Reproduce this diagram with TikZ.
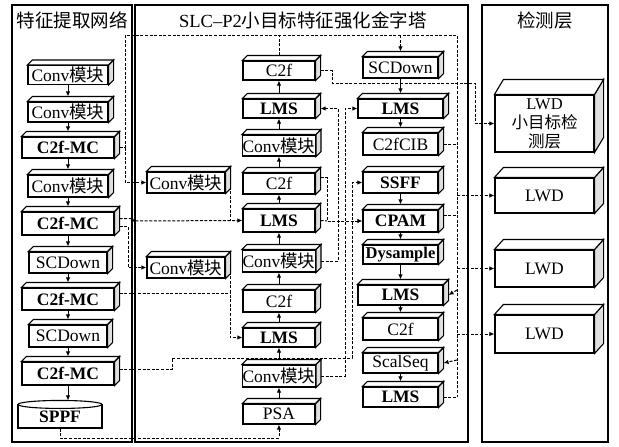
\documentclass[tikz,border=0pt]{standalone}
\usepackage{fontspec}
\setmainfont{Liberation Serif}
\newfontfamily\cjk{Noto Sans CJK SC}
\usetikzlibrary{arrows.meta,calc}
\newcommand\zh[1]{{\cjk #1}}
\newcommand\cubeit[3]{%
 \draw[line width=1.1pt, fill=gray!25] (#1.north east) -- ++(#2,-#3) -- ($(#1.south east)+(#2,-#3)$) -- (#1.south east) -- cycle;
 \draw[line width=1.1pt, fill=white] (#1.north west) -- ++(#2,-#3) -- ($(#1.north east)+(#2,-#3)$) -- (#1.north east) -- cycle;}
\newcommand\cubebox[7]{%
 \node[#1, minimum width=#5pt, minimum height=#6pt] (#2) at (#3,#4) {#7};
 \cubeit{#2}{5}{5}}
\begin{document}
\begin{tikzpicture}[x=1pt,y=-1pt,
 box/.style={draw, line width=1.1pt, fill=white, inner sep=0pt, font=\fontsize{17.5}{18}\selectfont},
 bbox/.style={box, font=\fontsize{17.5}{18}\selectfont\bfseries},
 arr/.style={line width=1pt, -{Latex[length=5pt,width=4.5pt]}},
 conn/.style={line width=1pt, dash pattern=on 3pt off 1.6pt},
 carr/.style={conn, -{Latex[length=5pt,width=4.5pt]}},
 panel/.style={draw, line width=1.1pt},
 ttl/.style={font=\fontsize{18.5}{19}\selectfont}]
\useasboundingbox (0,0) rectangle (619,447);
% panels
\draw[panel] (12,5) rectangle (132,442);
\draw[panel] (135,5) rectangle (468,442);
\draw[panel] (482,5) rectangle (608,442);
\node[ttl] (t1) at (72,20) {\zh{特征提取网络}};
\node[ttl] (t2) at (303,20) {SLC–P2\zh{小目标特征强化金字塔}};
\node[ttl] (t3) at (545,20) {\zh{检测层}};
% left column
\cubebox{box}{l1}{68}{75}{80}{19}{Conv\zh{模块}}
\cubebox{box}{l2}{68}{112}{80}{20}{Conv\zh{模块}}
\cubebox{bbox}{l3}{68}{147.5}{92}{21}{C2f-MC}
\cubebox{box}{l4}{68}{186}{80}{22}{Conv\zh{模块}}
\cubebox{bbox}{l5}{68}{223.5}{92}{23}{C2f-MC}
\cubebox{box}{l6}{68}{262.5}{78}{21}{SCDown}
\cubebox{bbox}{l7}{68}{299}{92}{22}{C2f-MC}
\cubebox{box}{l8}{68}{336}{78}{22}{SCDown}
\cubebox{bbox}{l9}{68}{373.5}{92}{23}{C2f-MC}
\node[bbox, minimum width=84pt, minimum height=23pt] (l10) at (60,416.5) {SPPF};
\draw[line width=1.1pt, fill=white] (l10.north) ellipse [x radius=42pt, y radius=4pt];
% column A
\cubebox{box}{a1}{279}{70.5}{72}{19}{C2f}
\cubebox{bbox}{a2}{279}{108.5}{72}{19}{LMS}
\cubebox{box}{a3}{279}{145.5}{72}{21}{Conv\zh{模块}}
\cubebox{box}{a4}{279}{183.5}{72}{21}{C2f}
\cubebox{bbox}{a5}{279}{220.5}{72}{23}{LMS}
\cubebox{box}{a6}{279}{261}{72}{22}{Conv\zh{模块}}
\cubebox{box}{a7}{279}{301}{72}{22}{C2f}
\cubebox{bbox}{a8}{279}{337.5}{72}{19}{LMS}
\cubebox{box}{a9}{279}{376}{72}{22}{Conv\zh{模块}}
\cubebox{box}{a10}{279}{414}{72}{20}{PSA}
% column B
\cubebox{box}{b1}{400.5}{67.5}{75}{21}{SCDown}
\cubebox{bbox}{b2}{400.5}{108.5}{85}{19}{LMS}
\cubebox{box}{b3}{400.5}{144}{75}{22}{C2fCIB}
\cubebox{bbox}{b4}{400.5}{182.5}{75}{21}{SSFF}
\cubebox{bbox}{b5}{400.5}{221}{75}{22}{CPAM}
\cubebox{bbox}{b6}{400.5}{254.5}{75}{19}{\fontsize{16.5}{17}\selectfont Dysample}
\cubebox{bbox}{b7}{400.5}{295}{85}{20}{LMS}
\cubebox{box}{b8}{400.5}{329}{75}{22}{C2f}
\cubebox{box}{b9}{400.5}{363}{75}{20}{ScalSeq}
\cubebox{bbox}{b10}{400.5}{397}{75}{20}{LMS}
% side column
\cubebox{box}{s1}{186}{182.5}{78}{21}{Conv\zh{模块}}
\cubebox{box}{s2}{186}{267.5}{78}{21}{Conv\zh{模块}}
% detection layers
\node[box, minimum width=99pt, minimum height=57pt, align=center, font=\fontsize{16.5}{19}\selectfont] (r1) at (544.5,123.5) {LWD\\\zh{小目标检}\\\zh{测层}};
\cubeit{r1}{9}{15}
\node[box, minimum width=99pt, minimum height=35pt] (r2) at (544.5,195.5) {LWD};
\cubeit{r2}{9}{10}
\node[box, minimum width=99pt, minimum height=37pt] (r3) at (544.5,268.5) {LWD};
\cubeit{r3}{9}{10}
\node[box, minimum width=99pt, minimum height=38pt] (r4) at (544.5,334) {LWD};
\cubeit{r4}{9}{10}
% solid arrows left column
\foreach \u/\v in {l1/l2,l2/l3,l3/l4,l4/l5,l5/l6,l6/l7,l7/l8,l8/l9}
  \draw[arr] (\u.south) -- ($(\v.north)+(0,-5)$);
\draw[arr] (l9.south) -- ($(l10.north)+(8,-4)$);
% column A upward
\foreach \u/\v in {a10/a9,a9/a8,a8/a7,a7/a6,a6/a5,a5/a4,a4/a3,a3/a2,a2/a1}
  \draw[arr] ($(\u.north)+(0,-5)$) -- (\v.south);
% column B downward
\foreach \u/\v in {b1/b2,b2/b3,b4/b5,b5/b6,b6/b7,b7/b8,b9/b10}
  \draw[arr] (\u.south) -- ($(\v.north)+(0,-5)$);
% dashed connectors
\draw[carr] (l10.south) -- (60,438) -- (279,438) -- (a10.south);
\draw[conn] ($(l3.east)+(5,0)$) -- (125,147.5) -- (125,35) -- (457,35) -- (457,397);
\draw[conn] ($(a1.north)+(0,-5)$) -- (279,35);
\draw[carr] (400.5,35) -- ($(b1.north)+(0,-5)$);
\draw[carr] ($(a1.east)+(5,0)$) -- (332,70.5) -- (332,83) -- (475,83) -- (475,123.5) -- (r1.west);
\draw[carr] (125,147.5) -- (125,182.5) -- (s1.west);
\draw[carr] ($(l5.east)+(5,-5)$) -- (133,218.5) -- (133,221) -- (a5.west);
\draw[carr] ($(l5.east)+(5,3)$) -- (128,226.5) -- (128,267.5) -- (s2.west);
\draw[conn] ($(s1.east)+(5,0)$) -- (230,182.5) -- (230,221);
\draw[carr] ($(s2.east)+(5,0)$) -- (230,267.5) -- (230,337.5) -- (a8.west);
\draw[conn] ($(l7.east)+(5,-6)$) -- (230,293);
\draw[carr] ($(l9.east)+(5,-4)$) -- (172,369.5) -- (172,358) -- (352,358) -- (352,182.5) -- (b4.west);
\draw[carr] ($(a9.east)+(5,0)$) -- (345,376) -- (345,108.5) -- (b2.west);
\draw[carr] ($(a6.east)+(5,0)$) -- (338,261) -- (338,108.5) -- ($(a2.east)+(5,0)$);
\draw[carr] ($(a4.east)+(5,-6)$) -- (327,177.5) -- (327,221) -- (b5.west);
\draw[conn] ($(a5.east)+(5,0)$) -- (327,221);
\draw[conn] ($(b3.east)+(5,0)$) -- (457,144);
\draw[conn] ($(b5.east)+(5,-6)$) -- (457,215);
\draw[carr] (457,195.5) -- (r2.west);
\draw[carr] (457,268.5) -- (r3.west);
\draw[carr] (457,334) -- (r4.west);
\draw[carr] (457,290) -- ($(b7.east)+(5,0)$);
\draw[conn] ($(b10.east)+(5,0)$) -- (457,397);
\draw[carr] (457,360) -- ($(b9.east)+(5,0)$);
\end{tikzpicture}
\end{document}
